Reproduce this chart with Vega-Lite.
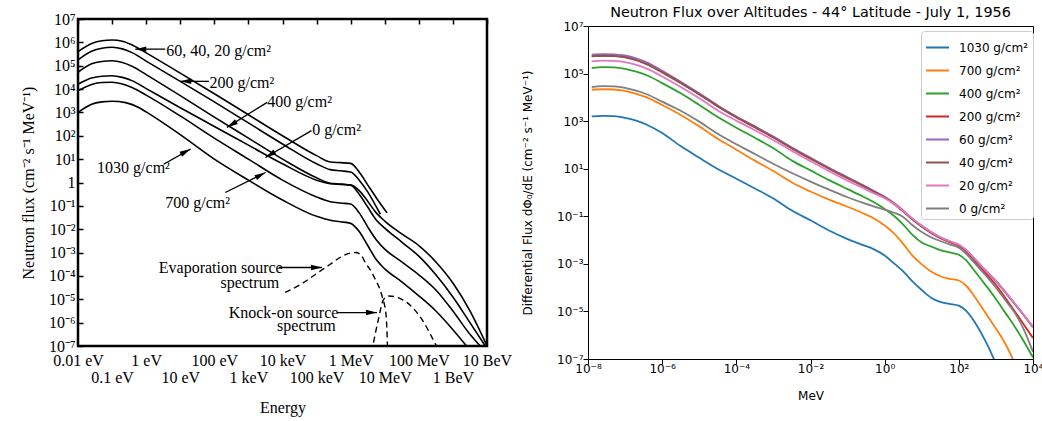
{
  "$schema": "https://vega.github.io/schema/vega-lite/v6.json",
  "background": "white",
  "padding": {"left": 19, "top": 4, "right": 0, "bottom": 0},
  "spacing": 8,
  "align": "none",
  "resolve": {"legend": {"color": "independent"}, "scale": {"x": "independent", "y": "independent"}},
  "config": {"font": "DejaVu Sans"},
  "datasets": {
    "right": [
      {"e":1.26e-8,"1030 g/cm²":1580,"700 g/cm²":20900,"400 g/cm²":170000,"200 g/cm²":525000,"60 g/cm²":631000,"40 g/cm²":537000,"20 g/cm²":324000,"0 g/cm²":26900},
      {"e":2.51e-8,"1030 g/cm²":1660,"700 g/cm²":21900,"400 g/cm²":186000,"200 g/cm²":550000,"60 g/cm²":661000,"40 g/cm²":562000,"20 g/cm²":347000,"0 g/cm²":29500},
      {"e":5.01e-8,"1030 g/cm²":1620,"700 g/cm²":21400,"400 g/cm²":182000,"200 g/cm²":537000,"60 g/cm²":646000,"40 g/cm²":550000,"20 g/cm²":339000,"0 g/cm²":28800},
      {"e":1e-7,"1030 g/cm²":1380,"700 g/cm²":18600,"400 g/cm²":158000,"200 g/cm²":479000,"60 g/cm²":575000,"40 g/cm²":490000,"20 g/cm²":302000,"0 g/cm²":25100},
      {"e":2e-7,"1030 g/cm²":1050,"700 g/cm²":14100,"400 g/cm²":120000,"200 g/cm²":363000,"60 g/cm²":437000,"40 g/cm²":372000,"20 g/cm²":234000,"0 g/cm²":19100},
      {"e":3.98e-7,"1030 g/cm²":692,"700 g/cm²":9770,"400 g/cm²":83200,"200 g/cm²":240000,"60 g/cm²":288000,"40 g/cm²":245000,"20 g/cm²":158000,"0 g/cm²":13200},
      {"e":1e-6,"1030 g/cm²":316,"700 g/cm²":4790,"400 g/cm²":39800,"200 g/cm²":112000,"60 g/cm²":132000,"40 g/cm²":115000,"20 g/cm²":75900,"0 g/cm²":6610},
      {"e":3.16e-6,"1030 g/cm²":89.1,"700 g/cm²":1820,"400 g/cm²":14800,"200 g/cm²":39800,"60 g/cm²":45700,"40 g/cm²":40700,"20 g/cm²":27500,"0 g/cm²":2750},
      {"e":1e-5,"1030 g/cm²":28.8,"700 g/cm²":603,"400 g/cm²":4790,"200 g/cm²":13200,"60 g/cm²":14800,"40 g/cm²":13500,"20 g/cm²":9120,"0 g/cm²":955},
      {"e":3.16e-5,"1030 g/cm²":9.77,"700 g/cm²":182,"400 g/cm²":1480,"200 g/cm²":4170,"60 g/cm²":4570,"40 g/cm²":4270,"20 g/cm²":2820,"0 g/cm²":295},
      {"e":1e-4,"1030 g/cm²":3.8,"700 g/cm²":63.1,"400 g/cm²":525,"200 g/cm²":1450,"60 g/cm²":1580,"40 g/cm²":1480,"20 g/cm²":1050,"0 g/cm²":107},
      {"e":3.16e-4,"1030 g/cm²":1.479,"700 g/cm²":21.9,"400 g/cm²":200,"200 g/cm²":550,"60 g/cm²":603,"40 g/cm²":562,"20 g/cm²":417,"0 g/cm²":41.7},
      {"e":1e-3,"1030 g/cm²":0.562,"700 g/cm²":7.94,"400 g/cm²":72.4,"200 g/cm²":204,"60 g/cm²":224,"40 g/cm²":209,"20 g/cm²":158,"0 g/cm²":15.8},
      {"e":3.16e-3,"1030 g/cm²":0.174,"700 g/cm²":2.63,"400 g/cm²":21.9,"200 g/cm²":70.8,"60 g/cm²":77.6,"40 g/cm²":72.4,"20 g/cm²":56.2,"0 g/cm²":6.61},
      {"e":0.01,"1030 g/cm²":0.0676,"700 g/cm²":1.096,"400 g/cm²":8.51,"200 g/cm²":26.3,"60 g/cm²":28.8,"40 g/cm²":26.9,"20 g/cm²":20.9,"0 g/cm²":2.88},
      {"e":0.0316,"1030 g/cm²":0.0251,"700 g/cm²":0.501,"400 g/cm²":3.31,"200 g/cm²":10.0,"60 g/cm²":11.0,"40 g/cm²":10.2,"20 g/cm²":7.94,"0 g/cm²":1.318},
      {"e":0.1,"1030 g/cm²":0.011,"700 g/cm²":0.251,"400 g/cm²":1.38,"200 g/cm²":3.98,"60 g/cm²":4.37,"40 g/cm²":4.07,"20 g/cm²":3.16,"0 g/cm²":0.631},
      {"e":0.251,"1030 g/cm²":0.00631,"700 g/cm²":0.138,"400 g/cm²":0.692,"200 g/cm²":1.95,"60 g/cm²":2.09,"40 g/cm²":2.0,"20 g/cm²":1.585,"0 g/cm²":0.372},
      {"e":0.501,"1030 g/cm²":0.00417,"700 g/cm²":0.0832,"400 g/cm²":0.398,"200 g/cm²":1.096,"60 g/cm²":1.175,"40 g/cm²":1.12,"20 g/cm²":0.933,"0 g/cm²":0.263},
      {"e":1,"1030 g/cm²":0.00224,"700 g/cm²":0.0407,"400 g/cm²":0.204,"200 g/cm²":0.617,"60 g/cm²":0.661,"40 g/cm²":0.631,"20 g/cm²":0.575,"0 g/cm²":0.191},
      {"e":1.78,"1030 g/cm²":0.00105,"700 g/cm²":0.0191,"400 g/cm²":0.105,"200 g/cm²":0.331,"60 g/cm²":0.363,"40 g/cm²":0.347,"20 g/cm²":0.339,"0 g/cm²":0.141},
      {"e":3.16,"1030 g/cm²":0.000479,"700 g/cm²":0.00692,"400 g/cm²":0.0447,"200 g/cm²":0.158,"60 g/cm²":0.174,"40 g/cm²":0.166,"20 g/cm²":0.166,"0 g/cm²":0.0933},
      {"e":5.62,"1030 g/cm²":0.000182,"700 g/cm²":0.00224,"400 g/cm²":0.0166,"200 g/cm²":0.0724,"60 g/cm²":0.0794,"40 g/cm²":0.0759,"20 g/cm²":0.0794,"0 g/cm²":0.0417},
      {"e":10,"1030 g/cm²":7.94e-5,"700 g/cm²":0.000955,"400 g/cm²":0.00794,"200 g/cm²":0.0363,"60 g/cm²":0.0398,"40 g/cm²":0.038,"20 g/cm²":0.0398,"0 g/cm²":0.0219},
      {"e":17.8,"1030 g/cm²":3.8e-5,"700 g/cm²":0.000479,"400 g/cm²":0.00537,"200 g/cm²":0.02,"60 g/cm²":0.0219,"40 g/cm²":0.0209,"20 g/cm²":0.0219,"0 g/cm²":0.0132},
      {"e":31.6,"1030 g/cm²":2.51e-5,"700 g/cm²":0.000302,"400 g/cm²":0.0038,"200 g/cm²":0.012,"60 g/cm²":0.0132,"40 g/cm²":0.0126,"20 g/cm²":0.0132,"0 g/cm²":0.00912},
      {"e":56.2,"1030 g/cm²":2.09e-5,"700 g/cm²":0.000234,"400 g/cm²":0.00302,"200 g/cm²":0.00813,"60 g/cm²":0.00891,"40 g/cm²":0.00851,"20 g/cm²":0.00891,"0 g/cm²":0.00661},
      {"e":100,"1030 g/cm²":1.74e-5,"700 g/cm²":0.0002,"400 g/cm²":0.0024,"200 g/cm²":0.00562,"60 g/cm²":0.00631,"40 g/cm²":0.00603,"20 g/cm²":0.00631,"0 g/cm²":0.00479},
      {"e":158,"1030 g/cm²":1.05e-5,"700 g/cm²":0.00012,"400 g/cm²":0.00141,"200 g/cm²":0.00331,"60 g/cm²":0.0038,"40 g/cm²":0.00372,"20 g/cm²":0.0038,"0 g/cm²":0.00263},
      {"e":251,"1030 g/cm²":4.17e-6,"700 g/cm²":4.79e-5,"400 g/cm²":0.000562,"200 g/cm²":0.00148,"60 g/cm²":0.00178,"40 g/cm²":0.00174,"20 g/cm²":0.00178,"0 g/cm²":0.0012},
      {"e":398,"1030 g/cm²":1.26e-6,"700 g/cm²":1.66e-5,"400 g/cm²":0.000224,"200 g/cm²":0.000661,"60 g/cm²":0.000832,"40 g/cm²":0.000832,"20 g/cm²":0.000832,"0 g/cm²":0.000537},
      {"e":631,"1030 g/cm²":3.16e-7,"700 g/cm²":5.62e-6,"400 g/cm²":8.91e-5,"200 g/cm²":0.000295,"60 g/cm²":0.000398,"40 g/cm²":0.000398,"20 g/cm²":0.000398,"0 g/cm²":0.00024},
      {"e":1000,"1030 g/cm²":6.31e-8,"700 g/cm²":1.91e-6,"400 g/cm²":3.31e-5,"200 g/cm²":0.000132,"60 g/cm²":0.000191,"40 g/cm²":0.000191,"20 g/cm²":0.000195,"0 g/cm²":0.0001},
      {"e":1778,"700 g/cm²":4.47e-7,"400 g/cm²":8.91e-6,"200 g/cm²":3.72e-5,"60 g/cm²":6.61e-5,"40 g/cm²":6.46e-5,"20 g/cm²":6.76e-5,"0 g/cm²":3.02e-5},
      {"e":3162,"700 g/cm²":7.08e-8,"400 g/cm²":2.4e-6,"200 g/cm²":1.05e-5,"60 g/cm²":2.19e-5,"40 g/cm²":2.14e-5,"20 g/cm²":2.24e-5,"0 g/cm²":9.12e-6},
      {"e":5623,"400 g/cm²":5.62e-7,"200 g/cm²":2.82e-6,"60 g/cm²":7.08e-6,"40 g/cm²":6.92e-6,"20 g/cm²":7.24e-6,"0 g/cm²":1.78e-6},
      {"e":10000,"400 g/cm²":1.17e-7,"200 g/cm²":7.59e-7,"60 g/cm²":2.24e-6,"40 g/cm²":2.19e-6,"20 g/cm²":2.29e-6,"0 g/cm²":2e-7}
    ],
    "left": [
      {"c":"A","e":1e-8,"f":398000},{"c":"A","e":2.51e-8,"f":891000},{"c":"A","e":5.01e-8,"f":1175000},{"c":"A","e":1e-7,"f":1260000},{"c":"A","e":2e-7,"f":1120000},{"c":"A","e":3.98e-7,"f":759000},{"c":"A","e":1e-6,"f":355000},{"c":"A","e":1e-5,"f":47900},{"c":"A","e":1e-4,"f":6310},{"c":"A","e":1e-3,"f":794},{"c":"A","e":0.01,"f":100},{"c":"A","e":0.1,"f":14.1},{"c":"A","e":0.251,"f":7.59},{"c":"A","e":0.501,"f":7.08},{"c":"A","e":1,"f":6.61},{"c":"A","e":1.78,"f":2.82},{"c":"A","e":3.16,"f":0.794},{"c":"A","e":5.62,"f":0.224},{"c":"A","e":11.7,"f":0.0501},
      {"c":"B","e":1e-8,"f":178000},{"c":"B","e":2.51e-8,"f":417000},{"c":"B","e":5.01e-8,"f":562000},{"c":"B","e":1e-7,"f":617000},{"c":"B","e":2e-7,"f":525000},{"c":"B","e":3.98e-7,"f":355000},{"c":"B","e":1e-6,"f":158000},{"c":"B","e":1e-5,"f":21400},{"c":"B","e":1e-4,"f":2820},{"c":"B","e":1e-3,"f":355},{"c":"B","e":0.01,"f":44.7},{"c":"B","e":0.1,"f":6.31},{"c":"B","e":0.251,"f":3.55},{"c":"B","e":0.501,"f":3.16},{"c":"B","e":1,"f":2.82},{"c":"B","e":1.78,"f":1.26},{"c":"B","e":3.16,"f":0.398},{"c":"B","e":7.41,"f":0.0437},
      {"c":"C","e":1e-8,"f":52500},{"c":"C","e":2.51e-8,"f":120000},{"c":"C","e":5.01e-8,"f":151000},{"c":"C","e":1e-7,"f":162000},{"c":"C","e":2e-7,"f":138000},{"c":"C","e":3.98e-7,"f":93300},{"c":"C","e":1e-6,"f":41700},{"c":"C","e":1e-5,"f":5250},{"c":"C","e":1e-4,"f":631},{"c":"C","e":1e-3,"f":79.4},{"c":"C","e":0.01,"f":10},{"c":"C","e":0.1,"f":1.585},{"c":"C","e":0.251,"f":0.933},{"c":"C","e":0.501,"f":0.851},{"c":"C","e":1,"f":0.759},{"c":"C","e":1.78,"f":0.316},{"c":"C","e":3.16,"f":0.0891},{"c":"C","e":5.62,"f":0.0251},{"c":"C","e":10,"f":0.0112},{"c":"C","e":31.6,"f":0.00282},{"c":"C","e":100,"f":0.000708},{"c":"C","e":316,"f":0.000112},{"c":"C","e":1000,"f":1.26e-5},{"c":"C","e":3162,"f":1e-6},{"c":"C","e":8910,"f":1e-7},
      {"c":"D","e":1e-8,"f":16200},{"c":"D","e":2.51e-8,"f":29500},{"c":"D","e":5.01e-8,"f":35500},{"c":"D","e":1e-7,"f":37200},{"c":"D","e":2e-7,"f":31600},{"c":"D","e":3.98e-7,"f":22400},{"c":"D","e":1e-6,"f":10500},{"c":"D","e":1e-5,"f":1580},{"c":"D","e":1e-4,"f":251},{"c":"D","e":1e-3,"f":39.8},{"c":"D","e":0.01,"f":6.31},{"c":"D","e":0.1,"f":1.26},{"c":"D","e":0.251,"f":0.891},{"c":"D","e":0.501,"f":0.832},{"c":"D","e":1,"f":0.794},{"c":"D","e":1.78,"f":0.447},{"c":"D","e":3.16,"f":0.158},{"c":"D","e":5.62,"f":0.0501},{"c":"D","e":10,"f":0.0224},{"c":"D","e":31.6,"f":0.00631},{"c":"D","e":100,"f":0.002},{"c":"D","e":316,"f":0.000398},{"c":"D","e":1000,"f":5.01e-5},{"c":"D","e":3162,"f":3.16e-6},{"c":"D","e":10000,"f":1e-7},
      {"c":"E","e":1e-8,"f":8510},{"c":"E","e":2.51e-8,"f":15800},{"c":"E","e":5.01e-8,"f":19100},{"c":"E","e":1e-7,"f":19500},{"c":"E","e":2e-7,"f":16600},{"c":"E","e":3.98e-7,"f":11500},{"c":"E","e":1e-6,"f":5500},{"c":"E","e":1e-5,"f":708},{"c":"E","e":1e-4,"f":79.4},{"c":"E","e":1e-3,"f":10},{"c":"E","e":0.01,"f":1.26},{"c":"E","e":0.1,"f":0.24},{"c":"E","e":0.251,"f":0.151},{"c":"E","e":0.501,"f":0.132},{"c":"E","e":1,"f":0.12},{"c":"E","e":1.78,"f":0.0501},{"c":"E","e":3.16,"f":0.0126},{"c":"E","e":5.62,"f":0.00355},{"c":"E","e":10,"f":0.00141},{"c":"E","e":31.6,"f":0.000398},{"c":"E","e":100,"f":0.000112},{"c":"E","e":316,"f":2.51e-5},{"c":"E","e":1000,"f":3.16e-6},{"c":"E","e":3162,"f":3.16e-7},{"c":"E","e":6310,"f":1e-7},
      {"c":"F","e":1e-8,"f":1000},{"c":"F","e":2.51e-8,"f":2240},{"c":"F","e":5.01e-8,"f":2820},{"c":"F","e":1e-7,"f":3020},{"c":"F","e":2.51e-7,"f":2630},{"c":"F","e":6.31e-7,"f":1580},{"c":"F","e":1e-6,"f":1050},{"c":"F","e":1e-5,"f":112},{"c":"F","e":1e-4,"f":10},{"c":"F","e":1e-3,"f":1.26},{"c":"F","e":0.01,"f":0.178},{"c":"F","e":0.1,"f":0.0355},{"c":"F","e":0.251,"f":0.024},{"c":"F","e":0.501,"f":0.0209},{"c":"F","e":1,"f":0.0178},{"c":"F","e":1.78,"f":0.00794},{"c":"F","e":3.16,"f":0.002},{"c":"F","e":5.62,"f":0.000501},{"c":"F","e":10,"f":0.0002},{"c":"F","e":31.6,"f":5.62e-5},{"c":"F","e":100,"f":1.41e-5},{"c":"F","e":316,"f":3.16e-6},{"c":"F","e":1000,"f":5.01e-7},{"c":"F","e":2512,"f":1e-7},
      {"c":"evap","e":0.012,"f":1.95e-5},{"c":"evap","e":0.0398,"f":5.01e-5},{"c":"evap","e":0.1,"f":0.000126},{"c":"evap","e":0.251,"f":0.000316},{"c":"evap","e":0.501,"f":0.000631},{"c":"evap","e":1,"f":0.000955},{"c":"evap","e":1.41,"f":0.001},{"c":"evap","e":2.0,"f":0.000794},{"c":"evap","e":2.69,"f":0.000372},{"c":"evap","e":3.98,"f":0.000158},{"c":"evap","e":5.25,"f":7.24e-5},{"c":"evap","e":8.32,"f":1.38e-5},{"c":"evap","e":11,"f":1.95e-6},{"c":"evap","e":12,"f":1e-7},
      {"c":"knock","e":4.68,"f":1.41e-7},{"c":"knock","e":6.31,"f":1.12e-6},{"c":"knock","e":9.33,"f":1e-5},{"c":"knock","e":13.2,"f":1.38e-5},{"c":"knock","e":31.6,"f":1e-5},{"c":"knock","e":123,"f":1.38e-6},{"c":"knock","e":302,"f":1.26e-7},{"c":"knock","e":355,"f":7.94e-8}
    ],
    "arrows": [
      {"n":"A","e":3.63e-6,"f":513000,"e2":4.79e-7,"f2":513000},
      {"n":"B","e":6.92e-5,"f":21400,"e2":1e-5,"f2":21400},
      {"n":"C","e":3.55e-3,"f":2690,"e2":2.34e-4,"f2":229},
      {"n":"D","e":0.0708,"f":166,"e2":3.16e-3,"f2":11.7},
      {"n":"F","e":3.24e-6,"f":6.03,"e2":2.0e-5,"f2":26.9},
      {"n":"E","e":2.09e-4,"f":0.372,"e2":3.16e-3,"f2":2.69},
      {"n":"V","e":7.76e-3,"f":2.29e-4,"e2":0.145,"f2":2.29e-4},
      {"n":"K","e":0.398,"f":2.69e-6,"e2":5.89,"f2":2.69e-6}
    ],
    "notes": [
      {"t":"60, 40, 20 g/cm²","e":3.89e-6,"f":447000},
      {"t":"200 g/cm²","e":7.24e-5,"f":17400},
      {"t":"400 g/cm²","e":3.55e-3,"f":2690},
      {"t":"0 g/cm²","e":0.0741,"f":170},
      {"t":"1030 g/cm²","e":3.63e-8,"f":4.37},
      {"t":"700 g/cm²","e":3.63e-6,"f":0.138},
      {"t":"Evaporation source","e":2.34e-6,"f":2.29e-4},
      {"t":"spectrum","e":1.51e-4,"f":5.13e-5},
      {"t":"Knock-on source","e":2.63e-4,"f":2.69e-6},
      {"t":"spectrum","e":6.92e-3,"f":7.24e-7}
    ]
  },
  "hconcat": [
    {
      "width": 409,
      "height": 327,
      "view": {"stroke": "black", "strokeWidth": 2.5},
      "layer": [
        {
          "data": {"name": "left"},
          "transform": [{"filter": "datum.c != 'evap' && datum.c != 'knock'"}],
          "mark": {"type": "line", "color": "black", "strokeWidth": 1.6, "interpolate": "monotone", "clip": true},
          "encoding": {
            "x": {"field": "e", "type": "quantitative", "scale": {"type": "log", "domain": [1e-8, 10000], "nice": false},
              "axis": {"values": [1e-8,1e-7,1e-6,1e-5,1e-4,1e-3,0.01,0.1,1,10,100,1000,10000],
                "labelExpr": "(round(log(datum.value)/LN10)+8) % 2 == 1 ? ['', ['0.01 eV','0.1 eV','1 eV','10 eV','100 eV','1 keV','10 keV','100 keV','1 MeV','10 MeV','100 MeV','1 BeV','10 BeV'][round(log(datum.value)/LN10)+8]] : ['0.01 eV','0.1 eV','1 eV','10 eV','100 eV','1 keV','10 keV','100 keV','1 MeV','10 MeV','100 MeV','1 BeV','10 BeV'][round(log(datum.value)/LN10)+8]",
                "title": "Energy", "titleFont": "Liberation Serif", "titleFontSize": 16, "titleFontWeight": "normal", "titleColor": "black", "titlePadding": 14,
                "labelFont": "Liberation Serif", "labelFontSize": 16, "labelColor": "black", "labelPadding": 6, "labelLineHeight": 17, "labelBaseline": "top",
                "labelOverlap": false, "labelBound": false, "labelFlush": false,
                "ticks": false, "domain": false, "grid": true, "gridColor": "black", "gridWidth": 1.5, "gridDash": [5, 2000], "gridOpacity": 1}},
            "y": {"field": "f", "type": "quantitative", "scale": {"type": "log", "domain": [1e-7, 1e7], "nice": false},
              "axis": {"values": [1e-7,1e-6,1e-5,1e-4,1e-3,0.01,0.1,1,10,100,1000,10000,1e5,1e6,1e7],
                "labelExpr": "round(log(datum.value)/LN10) == 0 ? '1' : '10' + (round(log(datum.value)/LN10) < 0 ? '⁻' : '') + substring('⁰¹²³⁴⁵⁶⁷⁸⁹', abs(round(log(datum.value)/LN10)), abs(round(log(datum.value)/LN10)) + 1)",
                "title": "Neutron flux    (cm⁻² s⁻¹ MeV⁻¹)", "titleFont": "Liberation Serif", "titleFontSize": 16, "titleFontWeight": "normal", "titleColor": "black", "titlePadding": 12,
                "labelFont": "Liberation Serif", "labelFontSize": 16, "labelColor": "black", "labelPadding": 3, "labelOverlap": false, "labelBound": false, "labelFlush": false,
                "ticks": false, "domain": false, "grid": true, "gridColor": "black", "gridWidth": 1.5, "gridDash": [5, 2000], "gridOpacity": 1}},
            "detail": {"field": "c", "type": "nominal"}
          }
        },
        {
          "data": {"name": "left"},
          "transform": [{"filter": "datum.c == 'evap' || datum.c == 'knock'"}],
          "mark": {"type": "line", "color": "black", "strokeWidth": 1.4, "strokeDash": [6, 4], "interpolate": "monotone", "clip": true},
          "encoding": {"x": {"field": "e", "type": "quantitative"}, "y": {"field": "f", "type": "quantitative"}, "detail": {"field": "c", "type": "nominal"}}
        },
        {
          "data": {"name": "arrows"},
          "mark": {"type": "rule", "color": "black", "strokeWidth": 1.3},
          "encoding": {"x": {"field": "e", "type": "quantitative"}, "y": {"field": "f", "type": "quantitative"}, "x2": {"field": "e2"}, "y2": {"field": "f2"}}
        },
        {
          "data": {"name": "arrows"},
          "transform": [{"filter": {"field": "n", "oneOf": ["A", "B"]}}],
          "mark": {"type": "point", "shape": "M0,0L0.55,2.2L-0.55,2.2Z", "filled": true, "color": "black", "opacity": 1, "size": 100, "angle": 270},
          "encoding": {"x": {"field": "e2", "type": "quantitative"}, "y": {"field": "f2", "type": "quantitative"}}
        },
        {
          "data": {"name": "arrows"},
          "transform": [{"filter": {"field": "n", "oneOf": ["C", "D"]}}],
          "mark": {"type": "point", "shape": "M0,0L0.55,2.2L-0.55,2.2Z", "filled": true, "color": "black", "opacity": 1, "size": 100, "angle": 239},
          "encoding": {"x": {"field": "e2", "type": "quantitative"}, "y": {"field": "f2", "type": "quantitative"}}
        },
        {
          "data": {"name": "arrows"},
          "transform": [{"filter": {"field": "n", "oneOf": ["E", "F"]}}],
          "mark": {"type": "point", "shape": "M0,0L0.55,2.2L-0.55,2.2Z", "filled": true, "color": "black", "opacity": 1, "size": 100, "angle": 62},
          "encoding": {"x": {"field": "e2", "type": "quantitative"}, "y": {"field": "f2", "type": "quantitative"}}
        },
        {
          "data": {"name": "arrows"},
          "transform": [{"filter": {"field": "n", "oneOf": ["V", "K"]}}],
          "mark": {"type": "point", "shape": "M0,0L0.55,2.2L-0.55,2.2Z", "filled": true, "color": "black", "opacity": 1, "size": 100, "angle": 90},
          "encoding": {"x": {"field": "e2", "type": "quantitative"}, "y": {"field": "f2", "type": "quantitative"}}
        },
        {
          "data": {"name": "notes"},
          "mark": {"type": "text", "font": "Liberation Serif", "fontSize": 16, "align": "left", "baseline": "middle", "color": "black"},
          "encoding": {"x": {"field": "e", "type": "quantitative"}, "y": {"field": "f", "type": "quantitative"}, "text": {"field": "t"}}
        }
      ]
    },
    {
      "width": 445,
      "height": 340,
      "title": {"text": "Neutron Flux over Altitudes - 44° Latitude - July 1, 1956", "font": "DejaVu Sans", "fontSize": 14.4, "fontWeight": "normal", "color": "black", "offset": -1},
      "view": {"stroke": null},
      "data": {"name": "right"},
      "transform": [{"fold": ["1030 g/cm²", "700 g/cm²", "400 g/cm²", "200 g/cm²", "60 g/cm²", "40 g/cm²", "20 g/cm²", "0 g/cm²"], "as": ["alt", "flux"]}],
      "resolve": {"axis": {"x": "independent", "y": "independent"}},
      "layer": [
        {
          "mark": {"type": "line", "strokeWidth": 1.8, "interpolate": "monotone", "clip": true},
          "encoding": {
            "x": {"field": "e", "type": "quantitative", "scale": {"type": "log", "domain": [1e-8, 10000], "nice": false},
              "axis": {"values": [1e-8, 1e-6, 1e-4, 0.01, 1, 100, 10000],
                "labelExpr": "'10' + (round(log(datum.value)/LN10) < 0 ? '⁻' : '') + substring('⁰¹²³⁴⁵⁶⁷⁸⁹', abs(round(log(datum.value)/LN10)), abs(round(log(datum.value)/LN10)) + 1)",
                "title": "MeV", "titleFont": "DejaVu Sans", "titleFontSize": 12, "titleFontWeight": "normal", "titleColor": "black", "titlePadding": 16,
                "labelFont": "DejaVu Sans", "labelFontSize": 12, "labelColor": "black", "labelPadding": -1, "labelOverlap": false, "labelBound": false, "labelFlush": false,
                "grid": false, "domain": true, "domainColor": "black", "domainWidth": 1, "tickColor": "black", "tickSize": 5, "tickWidth": 1}},
            "y": {"field": "flux", "type": "quantitative", "scale": {"type": "log", "domain": [1e-7, 1e7], "nice": false, "range": [340, 7]},
              "axis": {"values": [1e-7, 1e-5, 1e-3, 0.1, 10, 1000, 1e5, 1e7],
                "labelExpr": "'10' + (round(log(datum.value)/LN10) < 0 ? '⁻' : '') + substring('⁰¹²³⁴⁵⁶⁷⁸⁹', abs(round(log(datum.value)/LN10)), abs(round(log(datum.value)/LN10)) + 1)",
                "title": "Differential Flux dΦ₀/dE (cm⁻² s⁻¹ MeV⁻¹)", "titleFont": "DejaVu Sans", "titleFontSize": 12, "titleFontWeight": "normal", "titleColor": "black", "titlePadding": 22,
                "labelFont": "DejaVu Sans", "labelFontSize": 12, "labelColor": "black", "labelPadding": 0, "labelOverlap": false, "labelBound": false, "labelFlush": false,
                "grid": false, "domain": true, "domainColor": "black", "domainWidth": 1, "tickColor": "black", "tickSize": 5, "tickWidth": 1}},
            "color": {"field": "alt", "type": "nominal",
              "scale": {"domain": ["1030 g/cm²", "700 g/cm²", "400 g/cm²", "200 g/cm²", "60 g/cm²", "40 g/cm²", "20 g/cm²", "0 g/cm²"],
                "range": ["#1f77b4", "#ff7f0e", "#2ca02c", "#d62728", "#9467bd", "#8c564b", "#e377c2", "#7f7f7f"]},
              "legend": {"title": null, "orient": "none", "legendX": 333, "legendY": 12, "symbolType": "stroke", "symbolSize": 529, "symbolStrokeWidth": 2,
                "labelFont": "DejaVu Sans", "labelFontSize": 12, "labelColor": "black", "labelOffset": 9, "rowPadding": 4, "padding": 4,
                "strokeColor": "#cccccc", "fillColor": "white", "cornerRadius": 3}}
          }
        },
        {
          "mark": {"type": "point", "opacity": 0},
          "encoding": {
            "x": {"field": "e", "type": "quantitative", "axis": {"orient": "top", "offset": -7, "labels": false, "ticks": false, "title": null, "grid": false, "domain": true, "domainColor": "black", "domainWidth": 1}},
            "y": {"field": "flux", "type": "quantitative", "axis": {"orient": "right", "labels": false, "ticks": false, "title": null, "grid": false, "domain": true, "domainColor": "black", "domainWidth": 1}}
          }
        }
      ]
    }
  ]
}
